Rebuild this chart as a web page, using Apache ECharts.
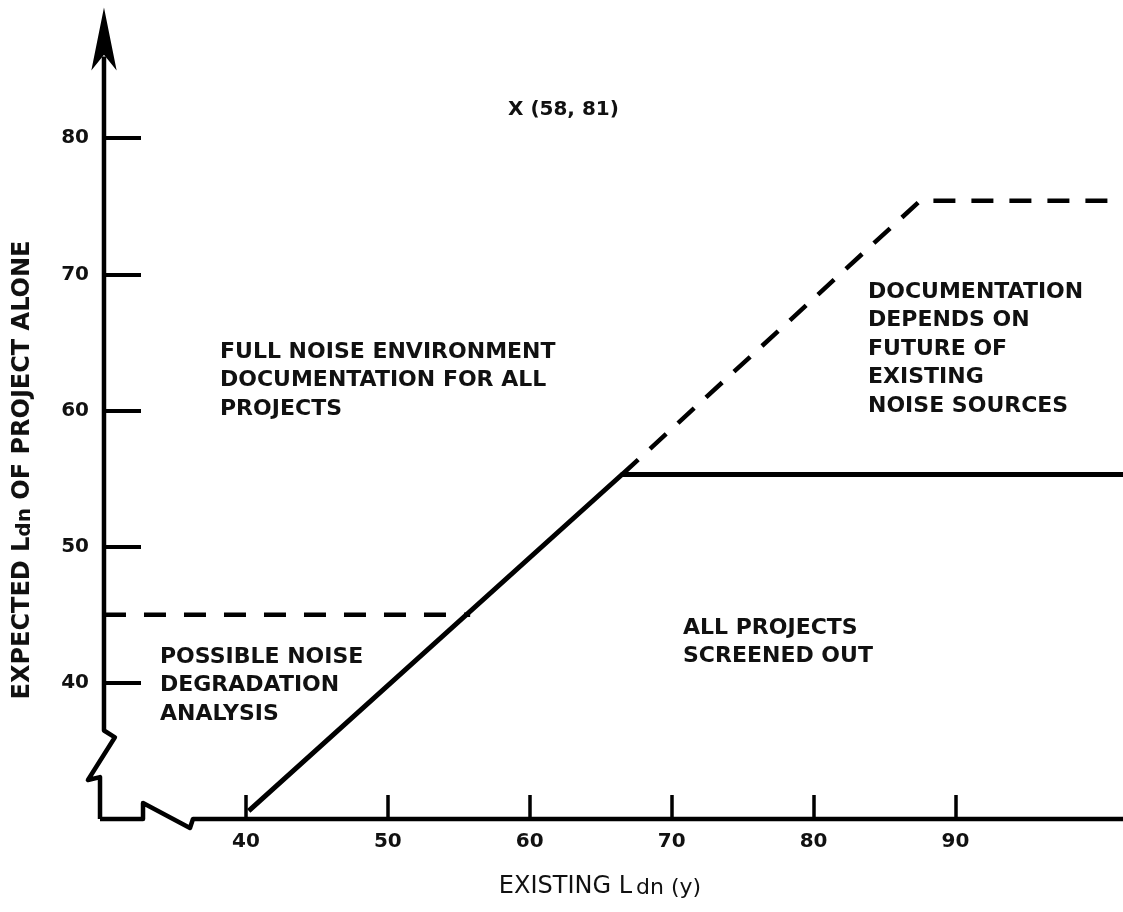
<!DOCTYPE html>
<html><head><meta charset="utf-8">
<script src="https://cdn.jsdelivr.net/npm/echarts@6/dist/echarts.min.js"></script>
<style>html,body{margin:0;padding:0;background:#fff}#c{width:1123px;height:912px}</style>
</head><body><div id="c"></div>
<script>
// ---- data ----
const xTicks = [40, 50, 60, 70, 80, 90];
const yTicks = [40, 50, 60, 70, 80];
const solidX = [40.2, 66.5, 101.8];
const solidY = [30.6, 55.3, 55.3];
const upperDashX = [66.5, 87.5, 101.8];
const upperDashY = [55.3, 75.4, 75.4];
const lowerDashX = [30, 55.8];
const lowerDashY = [45, 45];
const xAxisPathX = [29.72, 32.75, 32.75, 36.06, 36.27, 101.8];
const xAxisPathY = [30.0, 30.0, 31.17, 29.34, 30.0, 30.0];
const yAxisPathX = [30, 30, 30.77, 28.87, 29.72, 29.72];
const yAxisPathY = [86, 36.5, 36.0, 32.86, 33.08, 30.0];
const arrowX = [30];
const arrowY = [89.6];

const pts = (xs, ys) => xs.map((x, i) => [x, ys[i]]);
const FONT = '"DejaVu Sans", sans-serif';
const TXT = '#111';

const chart = echarts.init(document.getElementById('c'), null, {renderer: 'canvas'});

const lineBase = {type: 'line', symbol: 'none', clip: false, silent: true, animation: false};

const blockStyle = (text, x, y) => ({
  type: 'text', x: x, y: y, silent: true,
  style: {text: text, fill: TXT, fontFamily: FONT, fontWeight: 'bold', fontSize: 22,
          lineHeight: 28.5, align: 'left', verticalAlign: 'top'}
});

chart.setOption({
  animation: false,
  backgroundColor: '#fff',
  grid: {left: 75.6, right: 0, top: 2, bottom: 93, containLabel: false},
  xAxis: {
    type: 'value', min: 28, max: 101.8,
    axisLine: {show: false},
    splitLine: {show: false},
    axisTick: {show: true, inside: true, length: 24, customValues: xTicks,
               lineStyle: {color: '#000', width: 3.5}},
    axisLabel: {show: true, customValues: xTicks, margin: 13, color: TXT,
                fontFamily: FONT, fontWeight: 'bold', fontSize: 20}
  },
  yAxis: {
    type: 'value', min: 30, max: 90, offset: -28.4,
    axisLine: {show: false},
    splitLine: {show: false},
    axisTick: {show: true, inside: true, length: 37, customValues: yTicks,
               lineStyle: {color: '#000', width: 4}},
    axisLabel: {show: true, customValues: yTicks, margin: 15, color: TXT,
                fontFamily: FONT, fontWeight: 'bold', fontSize: 20}
  },
  series: [
    Object.assign({}, lineBase, {name: 'xAxisPath', data: pts(xAxisPathX, xAxisPathY),
      lineStyle: {color: '#000', width: 4.5, join: 'round'}}),
    Object.assign({}, lineBase, {name: 'yAxisPath', data: pts(yAxisPathX, yAxisPathY),
      lineStyle: {color: '#000', width: 4.5, join: 'round'}}),
    {type: 'scatter', name: 'arrow', data: pts(arrowX, arrowY), symbol: 'arrow',
     symbolSize: [19, 63], itemStyle: {color: '#000', opacity: 1}, silent: true, clip: false},
    Object.assign({}, lineBase, {name: 'solid', data: pts(solidX, solidY),
      lineStyle: {color: '#000', width: 5, join: 'round'}}),
    Object.assign({}, lineBase, {name: 'upperDash', data: pts(upperDashX, upperDashY),
      lineStyle: {color: '#000', width: 4.5, type: [22, 16]}}),
    Object.assign({}, lineBase, {name: 'lowerDash', data: pts(lowerDashX, lowerDashY),
      lineStyle: {color: '#000', width: 4.5, type: [22, 18]}})
  ],
  graphic: [
    {type: 'text', x: 508, y: 110, silent: true,
     style: {text: 'X (58, 81)', fill: TXT, fontFamily: FONT, fontWeight: 'bold', fontSize: 20,
             align: 'left', verticalAlign: 'middle'}},
    blockStyle('FULL NOISE ENVIRONMENT\nDOCUMENTATION FOR ALL\nPROJECTS', 220, 338),
    blockStyle('POSSIBLE NOISE\nDEGRADATION\nANALYSIS', 160, 643),
    blockStyle('ALL PROJECTS\nSCREENED OUT', 683, 614),
    blockStyle('DOCUMENTATION\nDEPENDS ON\nFUTURE OF\nEXISTING\nNOISE SOURCES', 868, 278),
    {type: 'text', x: 600, y: 887, silent: true,
     style: {text: '{a|EXISTING L}{b|dn (y)}', align: 'center', verticalAlign: 'middle',
       rich: {
         a: {fontFamily: FONT, fontSize: 24, lineHeight: 24, verticalAlign: 'top', fill: TXT, color: TXT},
         b: {fontFamily: FONT, fontSize: 22, lineHeight: 22, padding: [12, 0, 0, 4], verticalAlign: 'bottom', fill: TXT, color: TXT}
       }}},
    {type: 'text', x: 23, y: 470, rotation: Math.PI / 2, silent: true,
     style: {text: '{a|EXPECTED L}{b|dn}{a| OF PROJECT ALONE}', align: 'center', verticalAlign: 'middle',
       rich: {
         a: {fontFamily: FONT, fontWeight: 'bold', fontSize: 24, lineHeight: 24, verticalAlign: 'top', fill: TXT, color: TXT},
         b: {fontFamily: FONT, fontWeight: 'bold', fontSize: 20, lineHeight: 20, padding: [10, 0, 0, 0], verticalAlign: 'bottom', fill: TXT, color: TXT}
       }}}
  ]
});
</script>
</body></html>
